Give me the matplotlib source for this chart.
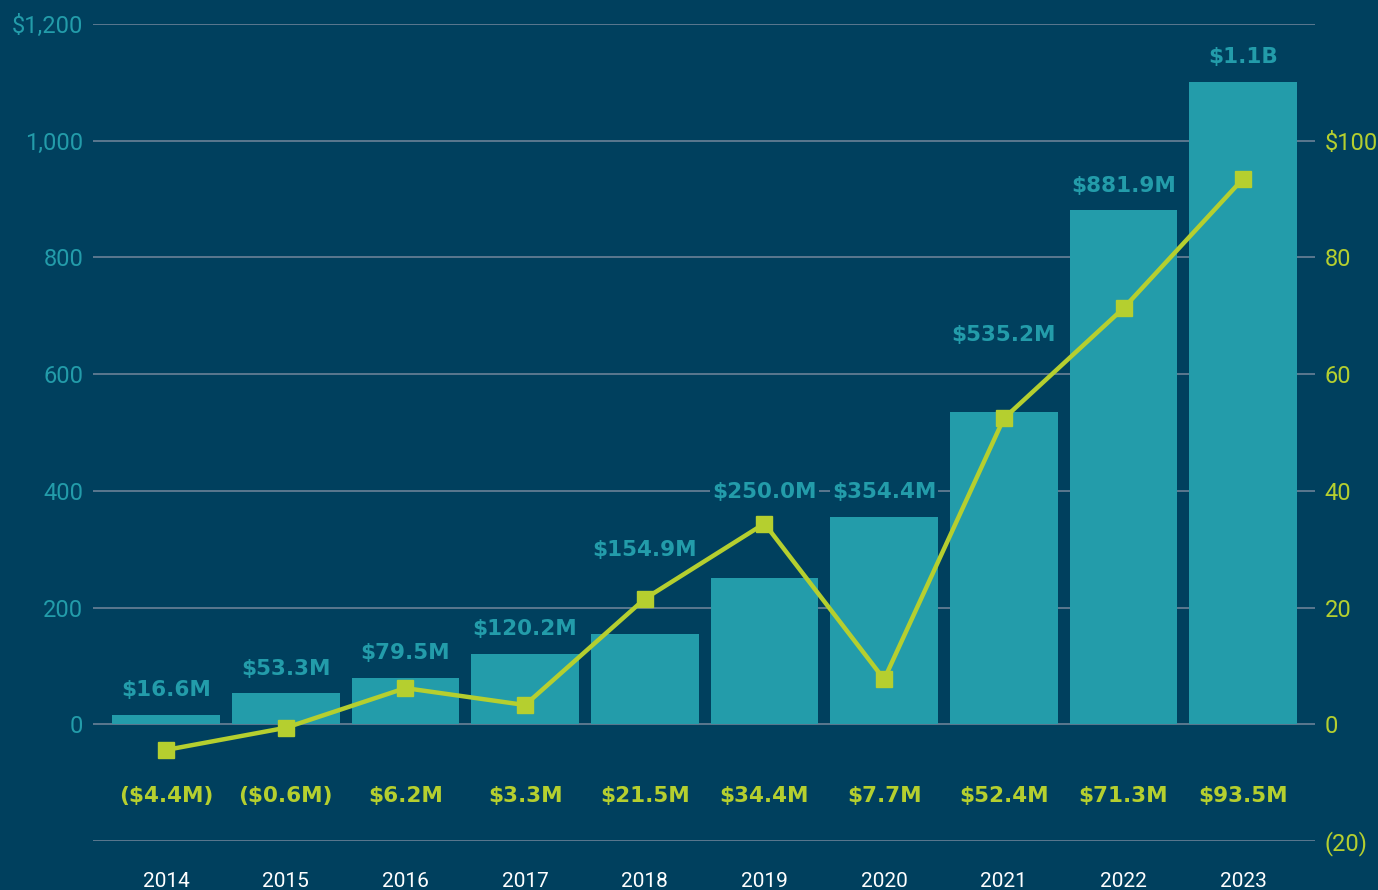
import matplotlib
matplotlib.use("Agg")
import matplotlib.pyplot as plt
import numpy as np

years = ["2014", "2015", "2016", "2017", "2018", "2019", "2020", "2021", "2022", "2023"]
revenue = [16.6, 53.3, 79.5, 120.2, 154.9, 250.0, 354.4, 535.2, 881.9, 1100.0]
revenue_labels = ["$16.6M", "$53.3M", "$79.5M", "$120.2M", "$154.9M", "$250.0M",
                  "$354.4M", "$535.2M", "$881.9M", "$1.1B"]
ebitda = [-4.4, -0.6, 6.2, 3.3, 21.5, 34.4, 7.7, 52.4, 71.3, 93.5]
ebitda_labels = ["($4.4M)", "($0.6M)", "$6.2M", "$3.3M", "$21.5M", "$34.4M",
                 "$7.7M", "$52.4M", "$71.3M", "$93.5M"]
left_ticks = [-200, 0, 200, 400, 600, 800, 1000, 1200]
left_ticklabels = ["", "0", "200", "400", "600", "800", "1,000", "$1,200"]
right_ticks = [-20, 0, 20, 40, 60, 80, 100, 120]
right_ticklabels = ["(20)", "0", "20", "40", "60", "80", "$100", ""]

# styling / placement (not data)
label_offsets_px = [25, 24, 25, 25, 84, 86, 25, 77, 24, 25]
BG = "#00405E"
TEAL = "#239CAA"
LIME = "#B5CF2F"
GRID = "#6A8197"
FONT = "Roboto"
LABEL_FONT = "DejaVu Sans"

plt.rcParams["font.family"] = [FONT, "DejaVu Sans"]

fig = plt.figure(figsize=(13.78, 8.90), dpi=100, facecolor=BG)
ax = fig.add_axes([93/1378, 1-841/890, (1315-93)/1378, (841-24)/890])
ax.set_facecolor(BG)
x = np.arange(len(years))

ax.set_axisbelow(True)
ax.yaxis.grid(True, color=GRID, linewidth=1.2)
ax.bar(x, revenue, width=0.9, color=TEAL, zorder=2)
ax.set_ylim(-200, 1200)
ax.set_xlim(-0.61, len(years) - 1 + 0.60)
ax.set_yticks(left_ticks)
ax.set_yticklabels(left_ticklabels)
ax.set_xticks(x)
ax.set_xticklabels(years)
ax.tick_params(axis="y", length=0, pad=7, labelsize=17, labelcolor=TEAL)
ax.tick_params(axis="x", length=0, pad=22, labelsize=15, labelcolor="white")
for s in ax.spines.values():
    s.set_visible(False)

ax2 = ax.twinx()
ax2.set_ylim(-20, 120)
ax2.set_yticks(right_ticks)
ax2.set_yticklabels(right_ticklabels)
ax2.tick_params(axis="y", length=0, pad=7, labelsize=17, labelcolor=LIME)
for s in ax2.spines.values():
    s.set_visible(False)
ax2.plot(x, ebitda, color=LIME, linewidth=3.2, marker="s", markersize=11.5, zorder=5)

for i, (v, lab) in enumerate(zip(revenue, revenue_labels)):
    ax.annotate(lab, (x[i], v), xytext=(0, label_offsets_px[i] * 0.72),
                textcoords="offset points", ha="center", va="center",
                fontsize=15.5, fontweight="bold", family=LABEL_FONT, color=TEAL, zorder=6,
                bbox=dict(boxstyle="square,pad=0.1", facecolor=BG, edgecolor="none"))

for i, lab in enumerate(ebitda_labels):
    ax2.text(x[i], -12.3, lab, ha="center", va="center", fontsize=15.5,
             fontweight="bold", family=LABEL_FONT, color=LIME)

fig.savefig("out.png", dpi=100, facecolor=BG)
